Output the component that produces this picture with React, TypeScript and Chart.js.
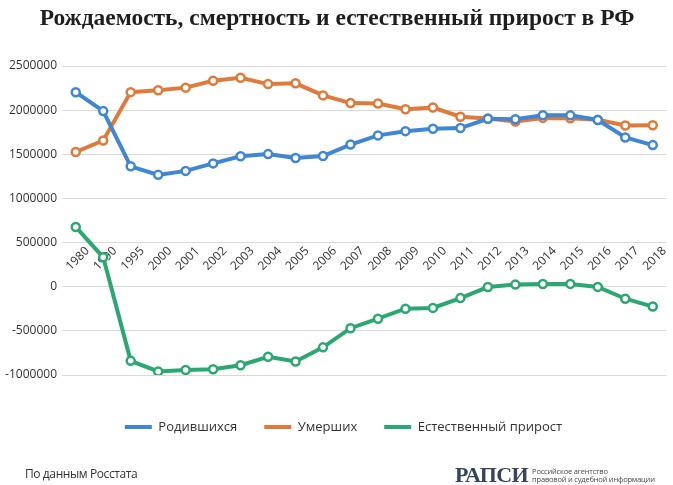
import React, { useEffect, useRef } from "react";
import { Chart, registerables } from "chart.js";

Chart.register(...registerables);

const categories = [
  "1980", "1990", "1995", "2000", "2001", "2002", "2003", "2004", "2005", "2006", "2007",
  "2008", "2009", "2010", "2011", "2012", "2013", "2014", "2015", "2016", "2017", "2018",
];

const births = [
  2203000, 1989000, 1364000, 1267000, 1312000, 1397000, 1477000, 1502000, 1457000, 1480000, 1610000,
  1714000, 1762000, 1789000, 1797000, 1902000, 1896000, 1943000, 1941000, 1889000, 1690000, 1604000,
];

const deaths = [
  1526000, 1656000, 2204000, 2225000, 2255000, 2332000, 2366000, 2295000, 2304000, 2167000, 2080000,
  2076000, 2011000, 2029000, 1926000, 1906000, 1872000, 1912000, 1909000, 1891000, 1826000, 1829000,
];

const naturalIncrease = [
  677000, 333000, -840000, -959000, -943000, -935000, -889000, -793000, -847000, -687000, -470000,
  -362000, -249000, -240000, -129000, -4000, 24000, 30000, 32000, -2000, -136000, -225000,
];

const seriesNames = ["Родившихся", "Умерших", "Естественный прирост"];
const seriesColors = ["#3f86d4", "#e07a3a", "#2ba872"];

const yMin = -1000000;
const yMax = 2500000;
const yStep = 500000;

const titleText = "Рождаемость, смертность и естественный прирост в РФ";
const sourceText = "По данным Росстата";

const SANS = "'Open Sans', 'Noto Sans', sans-serif";

const xLabelPlugin = {
  id: "xLabelsAtZero",
  afterLayout(chart: any) {
    if (chart.legend) {
      chart.legend.left += 16;
    }
  },
  beforeDatasetsDraw(chart: any) {
    const { ctx, scales } = chart;
    const x = scales.x;
    const y = scales.y;
    const baseY = y.getPixelForValue(0) - 28;
    ctx.save();
    ctx.font = `12px ${SANS}`;
    ctx.fillStyle = "#333333";
    ctx.textAlign = "center";
    ctx.textBaseline = "middle";
    categories.forEach((c, i) => {
      const px = x.getPixelForTick(i);
      ctx.save();
      ctx.translate(px + 2, baseY);
      ctx.rotate(-Math.PI / 4);
      ctx.fillText(c, 0, 0);
      ctx.restore();
    });
    ctx.restore();
  },
};

export default function App() {
  const canvasRef = useRef<HTMLCanvasElement | null>(null);

  useEffect(() => {
    if (!canvasRef.current) return;
    const series = [births, deaths, naturalIncrease];
    const chart = new Chart(canvasRef.current, {
      type: "line",
      data: {
        labels: categories,
        datasets: series.map((data, i) => ({
          label: seriesNames[i],
          data,
          borderColor: seriesColors[i],
          backgroundColor: seriesColors[i],
          borderWidth: 4,
          tension: 0,
          pointRadius: 4,
          pointBorderWidth: 2.5,
          pointBackgroundColor: "#ffffff",
          pointBorderColor: seriesColors[i],
        })),
      },
      options: {
        responsive: false,
        devicePixelRatio: 1,
        animation: false,
        layout: { padding: { left: 0, right: 2, top: 66, bottom: 41.5 } },
        scales: {
          x: {
            offset: true,
            grid: { display: false },
            border: { display: false },
            ticks: { display: false },
            afterFit: (s: any) => {
              s.height = 18.5;
            },
          },
          y: {
            min: yMin,
            max: yMax,
            grid: { color: "#d9d9d9", lineWidth: 1, drawTicks: false },
            border: { display: false },
            ticks: {
              stepSize: yStep,
              padding: 5,
              color: "#333333",
              font: { family: SANS, size: 12 },
              callback: (v: any) => String(v),
            },
            afterFit: (s: any) => {
              s.width = 62;
            },
          },
        },
        plugins: {
          title: { display: false },
          legend: {
            position: "bottom",
            labels: {
              boxWidth: 27,
              boxHeight: 4,
              padding: 27,
              color: "#333333",
              font: { family: SANS, size: 13 },
              generateLabels: (c: any) =>
                c.data.datasets.map((ds: any, i: number) => ({
                  text: ds.label,
                  fillStyle: ds.borderColor,
                  strokeStyle: ds.borderColor,
                  lineWidth: 0,
                  hidden: false,
                  datasetIndex: i,
                  fontColor: "#333333",
                })),
            },
          },
          tooltip: { enabled: false },
        },
      },
      plugins: [xLabelPlugin],
    });
    return () => chart.destroy();
  }, []);

  return (
    <div
      style={{
        position: "absolute",
        left: 0,
        top: 0,
        width: 673,
        height: 485,
        background: "#ffffff",
        overflow: "hidden",
      }}
    >
      <canvas ref={canvasRef} width={673} height={485} style={{ display: "block", width: 673, height: 485 }} />
      <div
        style={{
          position: "absolute",
          left: 0,
          top: 3,
          width: 674,
          textAlign: "center",
          fontFamily: "'Liberation Serif', serif",
          fontWeight: "bold",
          fontSize: 23.5,
          lineHeight: "28px",
          color: "#1e1e1e",
          whiteSpace: "nowrap",
        }}
      >
        {titleText}
      </div>
      <div
        style={{
          position: "absolute",
          left: 25,
          top: 466,
          fontFamily: SANS,
          fontSize: 12,
          color: "#333333",
          letterSpacing: -0.4,
          lineHeight: "16px",
          whiteSpace: "nowrap",
        }}
      >
        {sourceText}
      </div>
      <div
        style={{
          position: "absolute",
          left: 455,
          top: 464,
          display: "flex",
          alignItems: "center",
          whiteSpace: "nowrap",
        }}
      >
        <span
          style={{
            fontFamily: "'Liberation Serif', serif",
            fontWeight: "bold",
            fontSize: 22,
            lineHeight: "22px",
            color: "#34455e",
            letterSpacing: -0.6,
          }}
        >
          РАПСИ
        </span>
        <span
          style={{
            marginLeft: 4,
            fontFamily: SANS,
            fontSize: 7.5,
            lineHeight: "8px",
            color: "#4a4a4a",
            letterSpacing: -0.2,
          }}
        >
          Российское агентство
          <br />
          правовой и судебной информации
        </span>
      </div>
    </div>
  );
}
